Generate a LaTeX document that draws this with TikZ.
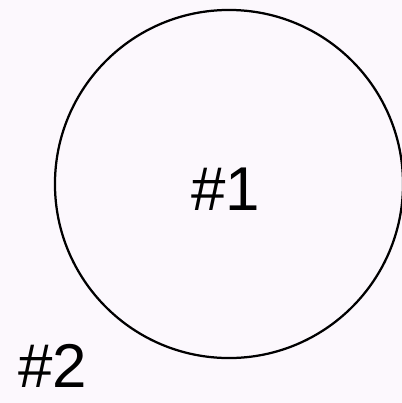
\documentclass[tikz,border=0pt]{standalone}
\usepackage{fontspec}
\setmainfont{Liberation Sans}
\definecolor{paper}{HTML}{FCF8FD}
\begin{document}
\begin{tikzpicture}[x=0.025cm, y=-0.025cm, font=\fontsize{44}{48}\selectfont]
\fill[paper] (0,0) rectangle (402,403);
\useasboundingbox (0,0) rectangle (402,403);
\node[draw, circle, line width=1.6pt, minimum size=8.7cm, inner sep=0pt] (region) at (229,184) {};
\node[inner sep=0pt] (one) at (226,189) {\#1};
\node[inner sep=0pt] (two) at (53,366) {\#2};
\end{tikzpicture}
\end{document}
